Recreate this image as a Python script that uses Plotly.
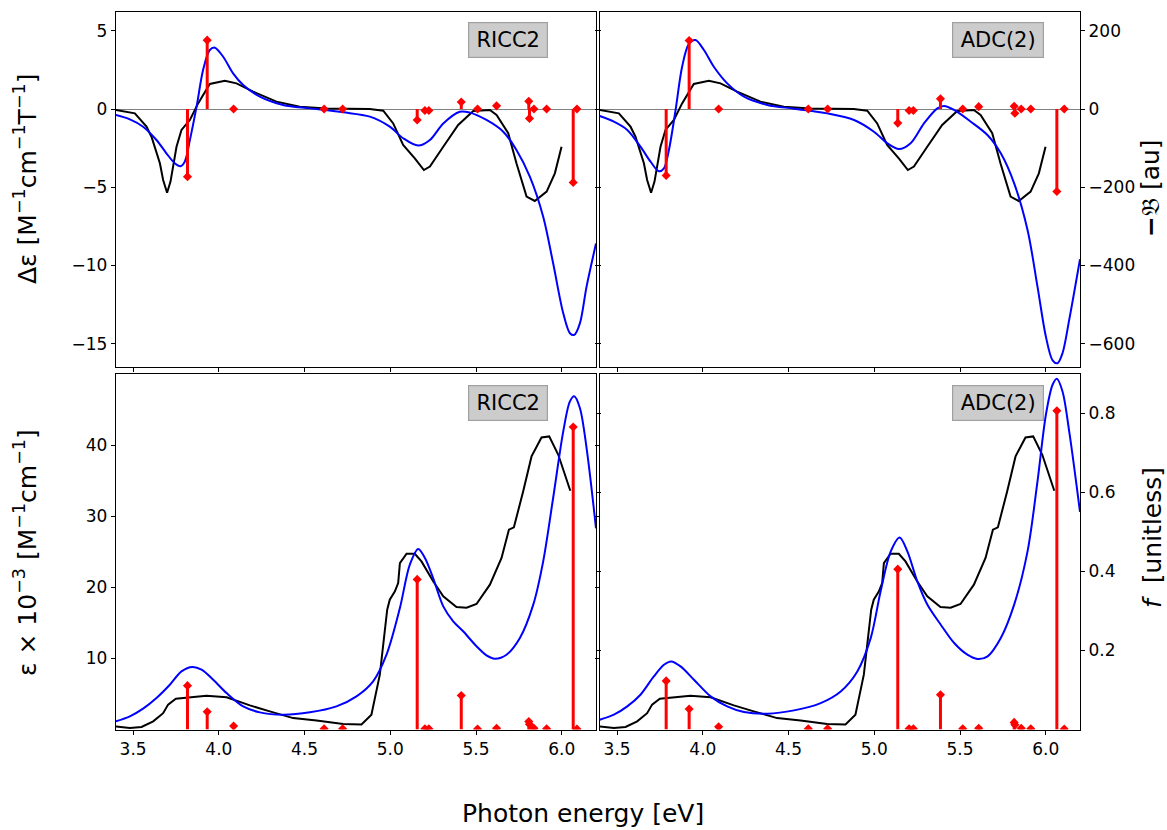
import plotly.graph_objects as go

# ---------------- data ----------------
energy_ticks = [3.5, 4.0, 4.5, 5.0, 5.5, 6.0]

# experimental CD (Delta epsilon)
exp_cd_E = [3.399, 3.51, 3.578, 3.607, 3.656, 3.675, 3.698, 3.718, 3.753, 3.782, 3.831, 3.879, 3.947, 4.035,
            4.103, 4.2, 4.336, 4.472, 4.628, 4.88, 4.959, 5.017, 5.075, 5.143, 5.196, 5.231, 5.309, 5.396,
            5.484, 5.581, 5.62, 5.688, 5.736, 5.795, 5.843, 5.912, 5.96, 5.999]
exp_cd = [-0.06, -0.28, -1.13, -1.77, -3.47, -4.54, -5.35, -4.64, -2.41, -1.34, -0.70, 0.36, 1.60, 1.81,
          1.64, 1.11, 0.47, 0.15, 0.04, 0.0, -0.11, -0.92, -2.30, -3.15, -3.90, -3.68, -2.41, -1.02,
          -0.13, -0.06, -0.38, -1.55, -3.47, -5.60, -5.88, -5.28, -4.11, -2.41]

# experimental absorption (epsilon x 1e-3)
exp_abs_E = [3.399, 3.481, 3.549, 3.617, 3.675, 3.704, 3.749, 3.831, 3.928, 4.045, 4.181, 4.297, 4.433,
             4.57, 4.725, 4.832, 4.89, 4.939, 4.982, 4.997, 5.027, 5.046, 5.056, 5.095, 5.143, 5.182,
             5.25, 5.309, 5.386, 5.445, 5.503, 5.581, 5.649, 5.692, 5.721, 5.775, 5.824, 5.882, 5.927,
             5.98, 6.05]
exp_abs = [0.44, 0.2, 0.35, 1.14, 2.3, 3.5, 4.33, 4.52, 4.75, 4.52, 3.39, 2.55, 1.6, 1.28, 0.77, 0.72,
           2.08, 7.71, 16.85, 18.26, 19.43, 20.6, 23.41, 24.72, 24.72, 23.64, 20.84, 18.73, 17.23, 17.14,
           17.65, 20.37, 24.12, 28.1, 28.43, 33.49, 38.41, 41.08, 41.22, 38.64, 33.58]

# computed broadened CD spectra (Delta epsilon)
ricc2_cd_E = [3.399, 3.481, 3.558, 3.636, 3.694, 3.743, 3.776, 3.801, 3.831, 3.87, 3.908, 3.947, 3.977,
              4.025, 4.083, 4.142, 4.239, 4.375, 4.531, 4.725, 4.881, 4.997, 5.075, 5.163, 5.231, 5.309,
              5.406, 5.464, 5.561, 5.659, 5.736, 5.814, 5.892, 5.95, 6.009, 6.048, 6.073, 6.106, 6.145,
              6.2]
ricc2_cd = [-0.38, -0.66, -1.13, -1.98, -2.83, -3.47, -3.66, -3.37, -1.98, 0.15, 2.49, 3.77, 3.92,
            3.34, 2.28, 1.53, 0.79, 0.26, 0.04, -0.21, -0.49, -1.13, -1.87, -2.34, -1.98, -0.92,
            -0.17, -0.23, -0.70, -1.45, -2.62, -4.32, -6.88, -9.86, -13.06, -14.33, -14.44, -13.7, -11.35,
            -8.6]
adc2_cd_E = [3.399, 3.481, 3.559, 3.636, 3.695, 3.743, 3.773, 3.802, 3.841, 3.879, 3.918, 3.957, 4.006,
             4.064, 4.142, 4.24, 4.376, 4.532, 4.726, 4.882, 4.998, 5.076, 5.144, 5.212, 5.29, 5.368,
             5.407, 5.465, 5.563, 5.66, 5.738, 5.816, 5.894, 5.952, 6.001, 6.04, 6.069, 6.098, 6.137,
             6.2]
adc2_cd = [-0.45, -0.81, -1.34, -2.41, -3.37, -3.98, -3.79, -2.62, -0.06, 2.70, 4.15, 4.41, 3.77,
           2.70, 1.64, 0.79, 0.26, 0.02, -0.28, -0.70, -1.45, -2.19, -2.56, -2.19, -0.92, 0.04,
           0.19, -0.06, -0.81, -1.66, -2.83, -4.75, -7.73, -11.35, -14.55, -16.06, -16.25, -15.61, -13.48,
           -9.6]

# computed broadened absorption spectra (epsilon x 1e-3)
ricc2_abs_E = [3.399, 3.481, 3.558, 3.636, 3.714, 3.782, 3.846, 3.899, 3.967, 4.045, 4.142, 4.239, 4.375,
               4.531, 4.686, 4.803, 4.9, 4.978, 5.056, 5.114, 5.163, 5.202, 5.25, 5.309, 5.367, 5.425,
               5.503, 5.561, 5.61, 5.678, 5.756, 5.834, 5.892, 5.95, 6.009, 6.048, 6.073, 6.106, 6.145,
               6.2]
ricc2_abs = [1.14, 1.85, 2.93, 4.43, 6.30, 8.18, 8.79, 8.41, 7.0, 5.13, 3.25, 2.41, 2.08, 2.41, 3.25,
             4.66, 6.77, 10.52, 17.08, 23.18, 25.38, 24.12, 21.3, 17.32, 15.21, 13.81, 11.7, 10.43, 9.96,
             10.52, 12.87, 17.56, 23.65, 32.56, 41.93, 46.15, 46.86, 45.22, 39.59, 28.3]
adc2_abs_E = [3.399, 3.481, 3.559, 3.636, 3.714, 3.773, 3.815, 3.87, 3.948, 4.045, 4.142, 4.24, 4.376,
              4.532, 4.687, 4.804, 4.901, 4.979, 5.037, 5.096, 5.148, 5.193, 5.251, 5.31, 5.388, 5.466,
              5.543, 5.602, 5.661, 5.738, 5.816, 5.894, 5.952, 6.001, 6.04, 6.065, 6.098, 6.137, 6.2]
adc2_abs = [1.38, 2.08, 3.25, 4.89, 7.47, 9.11, 9.58, 8.88, 7.0, 4.66, 3.25, 2.45, 2.22, 2.69, 3.72,
            5.36, 8.17, 12.85, 19.43, 25.05, 27.02, 25.05, 20.83, 17.55, 14.74, 12.16, 10.52, 9.91,
            10.29, 12.87, 17.56, 25.05, 34.9, 44.27, 48.49, 49.33, 47.55, 41.93, 30.6]

# excited states: energies, rotatory strengths (au), oscillator strengths
ricc2_E = [3.817, 3.932, 4.086, 4.614, 4.722, 5.157, 5.202, 5.225, 5.414, 5.509, 5.620, 5.808, 5.812,
           5.838, 5.912, 6.067, 6.089]
ricc2_R = [-173, 176, 0, 0, 0, -28, -4, -4, 18, 0, 8, 20, -24, 0, 0, -188, 0]
ricc2_f = [0.111, 0.045, 0.009, 0.002, 0.002, 0.380, 0.002, 0.002, 0.086, 0.001, 0.003, 0.020, 0.013,
           0.003, 0.002, 0.766, 0.001]

adc2_E = [3.786, 3.920, 4.092, 4.615, 4.728, 5.137, 5.203, 5.228, 5.386, 5.516, 5.609, 5.816, 5.820,
          5.857, 5.913, 6.065, 6.108]
adc2_R = [-170, 175, 0, 0, 0, -36, -4, -4, 26, 0, 6, 7, -11, 0, 0, -211, 0]
adc2_f = [0.123, 0.052, 0.007, 0.002, 0.002, 0.406, 0.002, 0.002, 0.088, 0.002, 0.003, 0.018, 0.012,
          0.003, 0.002, 0.807, 0.001]

methods = ["RICC2", "ADC(2)"]

# ---------------- figure ----------------
W, H = 1167, 830
FONT = "DejaVu Sans"
BLACK, BLUE, RED = "#000000", "#0000ff", "#ff0000"

fig = go.Figure()


def stems(E, vals):
    xs, ys = [], []
    for e, v in zip(E, vals):
        xs += [e, e, None]
        ys += [0, v, None]
    return xs, ys


panels = [
    # (xaxis, left y, twin y, exp E, exp y, calc E, calc y, stick E, stick vals)
    ("x", "y", "y2", exp_cd_E, exp_cd, ricc2_cd_E, ricc2_cd, ricc2_E, ricc2_R),
    ("x2", "y3", "y4", exp_cd_E, exp_cd, adc2_cd_E, adc2_cd, adc2_E, adc2_R),
    ("x3", "y5", "y6", exp_abs_E, exp_abs, ricc2_abs_E, ricc2_abs, ricc2_E, ricc2_f),
    ("x4", "y7", "y8", exp_abs_E, exp_abs, adc2_abs_E, adc2_abs, adc2_E, adc2_f),
]

for xa, ya, ya2, eE, ey, cE, cy, sE, sv in panels:
    fig.add_trace(go.Scatter(x=eE, y=ey, xaxis=xa, yaxis=ya, mode="lines",
                             line=dict(color=BLACK, width=2), showlegend=False, hoverinfo="skip"))
    fig.add_trace(go.Scatter(x=cE, y=cy, xaxis=xa, yaxis=ya, mode="lines",
                             line=dict(color=BLUE, width=2, shape="spline", smoothing=0.9),
                             showlegend=False, hoverinfo="skip"))
    xs, ys = stems(sE, sv)
    fig.add_trace(go.Scatter(x=xs, y=ys, xaxis=xa, yaxis=ya2, mode="lines",
                             line=dict(color=RED, width=3), showlegend=False, hoverinfo="skip"))
    fig.add_trace(go.Scatter(x=sE, y=sv, xaxis=xa, yaxis=ya2, mode="markers",
                             marker=dict(color=RED, symbol="diamond", size=7, line=dict(width=0)),
                             showlegend=False, hoverinfo="skip"))


def dx(a, b):
    return [a / W, b / W]


def dy(top, bottom):
    return [1 - bottom / H, 1 - top / H]


X_LEFT = dx(116, 596)
X_RIGHT = dx(600, 1080)
Y_TOP = dy(12, 367)
Y_BOT = dy(374, 729.5)

tickfont = dict(family=FONT, size=17, color="black")
base = dict(showline=True, linecolor="black", linewidth=1.3, ticks="outside", ticklen=4,
            tickwidth=1.2, tickcolor="black", showgrid=False, zeroline=False, tickfont=tickfont)

cd_range = [-16.49, 6.2]
rot_range = [cd_range[0] * 40, cd_range[1] * 40]
abs_range = [0, 50]
f_range = [0, 0.9]

xcommon = dict(base, range=[3.4, 6.2], tickvals=energy_ticks, ticktext=[f"{v:.1f}" for v in energy_ticks],
               mirror=True)

fig.update_layout(
    xaxis=dict(xcommon, domain=X_LEFT, anchor="y", showticklabels=False),
    xaxis2=dict(xcommon, domain=X_RIGHT, anchor="y3", showticklabels=False),
    xaxis3=dict(xcommon, domain=X_LEFT, anchor="y5", showticklabels=True),
    xaxis4=dict(xcommon, domain=X_RIGHT, anchor="y7", showticklabels=True),
    yaxis=dict(base, domain=Y_TOP, anchor="x", range=cd_range, tickvals=[-15, -10, -5, 0, 5],
               zeroline=True, zerolinecolor="#808080", zerolinewidth=1.2),
    yaxis2=dict(base, overlaying="y", side="right", anchor="x", range=rot_range,
                tickvals=[-600, -400, -200, 0, 200], showticklabels=False),
    yaxis3=dict(base, domain=Y_TOP, anchor="x2", range=cd_range, tickvals=[-15, -10, -5, 0, 5],
                showticklabels=False, zeroline=True, zerolinecolor="#808080", zerolinewidth=1.2),
    yaxis4=dict(base, overlaying="y3", side="right", anchor="x2", range=rot_range,
                tickvals=[-600, -400, -200, 0, 200], showticklabels=True),
    yaxis5=dict(base, domain=Y_BOT, anchor="x3", range=abs_range, tickvals=[10, 20, 30, 40]),
    yaxis6=dict(base, overlaying="y5", side="right", anchor="x3", range=f_range,
                tickvals=[0.2, 0.4, 0.6, 0.8], showticklabels=False),
    yaxis7=dict(base, domain=Y_BOT, anchor="x4", range=abs_range, tickvals=[10, 20, 30, 40],
                showticklabels=False),
    yaxis8=dict(base, overlaying="y7", side="right", anchor="x4", range=f_range,
                tickvals=[0.2, 0.4, 0.6, 0.8], ticktext=["0.2", "0.4", "0.6", "0.8"], showticklabels=True),
)

annotations = []
box_refs = [("x domain", "y domain", methods[0], 0.9718), ("x2 domain", "y3 domain", methods[1], 0.9718),
            ("x3 domain", "y5 domain", methods[0], 0.9695), ("x4 domain", "y7 domain", methods[1], 0.9695)]
for xr, yr, txt, ytop in box_refs:
    annotations.append(dict(xref=xr, yref=yr, x=0.733, y=ytop, xanchor="left", yanchor="top",
                            text=txt, showarrow=False, font=dict(family=FONT, size=21, color="black"),
                            bgcolor="#cccccc", bordercolor="#a0a0a0", borderwidth=1.2, borderpad=0,
                            width=78 if txt == "RICC2" else 90, height=34, align="center"))

label_font = dict(family=FONT, size=25, color="black")
annotations += [
    dict(xref="paper", yref="paper", x=25 / W, y=1 - 179 / H, xanchor="center", yanchor="middle",
         text="Δε [M<sup>−1</sup>cm<sup>−1</sup>T<sup>−1</sup>]", textangle=-90, showarrow=False,
         font=label_font),
    dict(xref="paper", yref="paper", x=25 / W, y=1 - 553 / H, xanchor="center", yanchor="middle",
         text="ε × 10<sup>−3</sup> [M<sup>−1</sup>cm<sup>−1</sup>]", textangle=-90, showarrow=False,
         font=label_font),
    dict(xref="paper", yref="paper", x=1150 / W, y=1 - 188 / H, xanchor="center", yanchor="middle",
         text="<b>−</b>𝔅 [au]", textangle=-90, showarrow=False, font=label_font),
    dict(xref="paper", yref="paper", x=1152 / W, y=1 - 538 / H, xanchor="center", yanchor="middle",
         text="<i>f</i>  [unitless]", textangle=-90, showarrow=False, font=label_font),
    dict(xref="paper", yref="paper", x=582.5 / W, y=1 - 813 / H, xanchor="center", yanchor="middle",
         text="Photon energy [eV]", showarrow=False, font=label_font),
]

fig.update_layout(
    width=W, height=H, margin=dict(l=0, r=0, t=0, b=0),
    paper_bgcolor="white", plot_bgcolor="white",
    font=dict(family=FONT, color="black"),
    annotations=annotations, showlegend=False,
)

fig.write_html("out.html", config={"displayModeBar": False},
               post_script="document.body.style.margin='0';document.body.style.overflow='hidden';")
